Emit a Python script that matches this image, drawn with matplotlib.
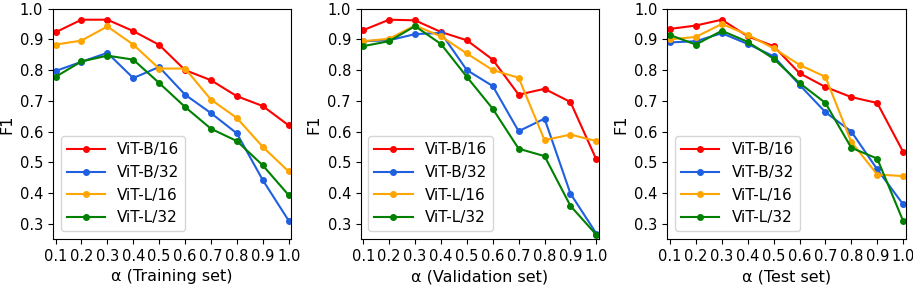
import numpy as np
import matplotlib.pyplot as plt

# alpha values on the x axis
alpha = [0.1, 0.2, 0.3, 0.4, 0.5, 0.6, 0.7, 0.8, 0.9, 1.0]
models = ['ViT-B/16', 'ViT-B/32', 'ViT-L/16', 'ViT-L/32']
colors = ['red', '#1f5fe0', 'orange', 'green']

# F1 scores, training set
train_b16 = [0.923, 0.964, 0.964, 0.927, 0.882, 0.800, 0.767, 0.715, 0.683, 0.620]
train_b32 = [0.797, 0.827, 0.856, 0.774, 0.810, 0.720, 0.660, 0.594, 0.442, 0.310]
train_l16 = [0.883, 0.896, 0.942, 0.883, 0.805, 0.805, 0.704, 0.644, 0.550, 0.470]
train_l32 = [0.778, 0.828, 0.847, 0.834, 0.758, 0.680, 0.609, 0.569, 0.490, 0.393]

# F1 scores, validation set
val_b16 = [0.930, 0.964, 0.962, 0.924, 0.897, 0.834, 0.720, 0.739, 0.696, 0.509]
val_b32 = [0.894, 0.897, 0.917, 0.921, 0.800, 0.748, 0.601, 0.642, 0.398, 0.268]
val_l16 = [0.894, 0.902, 0.945, 0.910, 0.854, 0.800, 0.775, 0.572, 0.590, 0.569]
val_l32 = [0.878, 0.894, 0.943, 0.885, 0.778, 0.674, 0.544, 0.520, 0.358, 0.264]

# F1 scores, test set
test_b16 = [0.934, 0.945, 0.964, 0.910, 0.878, 0.790, 0.745, 0.712, 0.693, 0.534]
test_b32 = [0.890, 0.894, 0.920, 0.885, 0.845, 0.752, 0.663, 0.600, 0.477, 0.363]
test_l16 = [0.900, 0.908, 0.950, 0.915, 0.871, 0.817, 0.778, 0.566, 0.460, 0.455]
test_l32 = [0.914, 0.883, 0.928, 0.892, 0.837, 0.758, 0.693, 0.547, 0.512, 0.309]

panels = [
    ('α (Training set)', [train_b16, train_b32, train_l16, train_l32]),
    ('α (Validation set)', [val_b16, val_b32, val_l16, val_l32]),
    ('α (Test set)', [test_b16, test_b32, test_l16, test_l32]),
]

fig = plt.figure(figsize=(9.13, 2.88), dpi=100)
lefts = [0.058, 0.395, 0.731]
for (xlabel, series), left in zip(panels, lefts):
    ax = fig.add_axes([left, 0.17, 0.261, 0.80])
    for vals, name, c in zip(series, models, colors):
        ax.plot(alpha, vals, marker='o', markersize=4, linewidth=1.5, color=c, label=name)
    ax.set_xlim(0.09, 1.01)
    ax.set_ylim(0.25, 1.0)
    ax.set_xticks(alpha)
    ax.set_yticks([0.3, 0.4, 0.5, 0.6, 0.7, 0.8, 0.9, 1.0])
    ax.tick_params(labelsize=10.5)
    ax.set_xlabel(xlabel, fontsize=11.5)
    ax.set_ylabel('F1', fontsize=11.5)
    ax.legend(loc='lower left', fontsize=11, handlelength=2.5)

fig.savefig('out.png', dpi=100)
